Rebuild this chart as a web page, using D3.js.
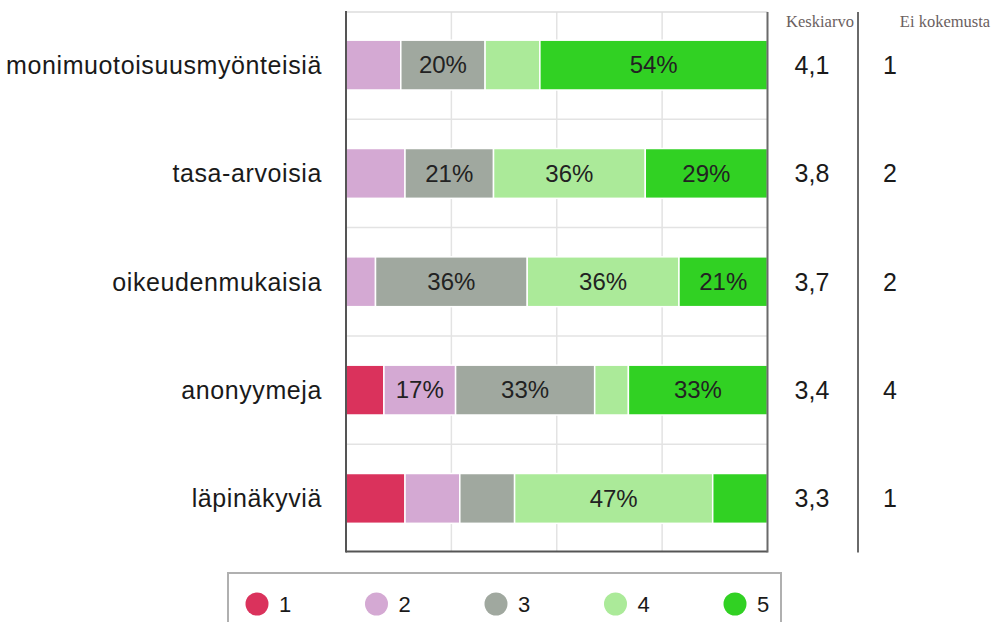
<!DOCTYPE html>
<html>
<head>
<meta charset="utf-8">
<script src="https://cdn.jsdelivr.net/npm/d3@7"></script>
<style>
  body { margin: 0; background: #fff; }
  svg { display: block; font-family: "Liberation Sans", Arial, sans-serif; }
</style>
</head>
<body>
<div class="chart"></div>
<script>
// data (percent of answers per grade)
var categories = ["monimuotoisuusmyönteisiä", "tasa-arvoisia", "oikeudenmukaisia", "anonyymeja", "läpinäkyviä"];
var grades = ["1", "2", "3", "4", "5"];
var grade1 = [0, 0, 0, 9, 14];
var grade2 = [13, 14, 7, 17, 13];
var grade3 = [20, 21, 36, 33, 13];
var grade4 = [13, 36, 36, 8, 47];
var grade5 = [54, 29, 21, 33, 13];
var keskiarvo = ["4,1", "3,8", "3,7", "3,4", "3,3"];
var eiKokemusta = ["1", "2", "2", "4", "1"];
var colors = ["#da325c", "#d4a9d3", "#a0a89f", "#abea99", "#31d123"];

var width = 995, height = 622,
    margin = {top: 12, left: 346, right: 227.5, bottom: 70.5},
    plotRight = width - margin.right,
    plotBottom = height - margin.bottom;

var svg = d3.select(".chart").append("svg")
    .attr("width", width)
    .attr("height", height);

var x = d3.scaleLinear().domain([0, 100]).range([margin.left, plotRight]);
var y = d3.scaleBand().domain(categories)
    .range([margin.top, plotBottom])
    .paddingInner(0.54)
    .paddingOuter(0.26);
var color = d3.scaleOrdinal().domain(grades).range(colors);

// rows -> stacked segments
var rows = categories.map(function(c, i) {
    return {cat: c, "1": grade1[i], "2": grade2[i], "3": grade3[i], "4": grade4[i], "5": grade5[i]};
});
var stack = d3.stack().keys(grades)(rows);

// grid
var grid = svg.append("g").attr("class", "grid");
grid.selectAll(".vgrid")
    .data([25, 50, 75])
  .enter().append("line")
    .attr("x1", function(d) { return x(d); })
    .attr("x2", function(d) { return x(d); })
    .attr("y1", margin.top)
    .attr("y2", plotBottom)
    .attr("stroke", "#e3e3e3")
    .attr("stroke-width", 1.5);
grid.selectAll(".hgrid")
    .data(categories.slice(1))
  .enter().append("line")
    .attr("x1", margin.left)
    .attr("x2", plotRight)
    .attr("y1", function(d) { return y(d) - y.step() * y.paddingInner() / 2; })
    .attr("y2", function(d) { return y(d) - y.step() * y.paddingInner() / 2; })
    .attr("stroke", "#e3e3e3")
    .attr("stroke-width", 1.5);
// top line
grid.append("line")
    .attr("x1", margin.left).attr("x2", plotRight)
    .attr("y1", margin.top).attr("y2", margin.top)
    .attr("stroke", "#dcdcdc").attr("stroke-width", 1.5);

// bars
var layer = svg.selectAll(".layer")
    .data(stack)
  .enter().append("g")
    .attr("class", "layer")
    .attr("fill", function(d) { return color(d.key); });

layer.selectAll("rect")
    .data(function(d) { return d; })
  .enter().append("rect")
    .attr("x", function(d) { return x(d[0]); })
    .attr("width", function(d) { return Math.max(0, x(d[1]) - x(d[0])); })
    .attr("y", function(d) { return y(d.data.cat); })
    .attr("height", y.bandwidth())
    .attr("stroke", "#fff")
    .attr("stroke-width", function(d) { return d[1] - d[0] > 0 ? 1.5 : 0; });

// percent labels (only big segments)
layer.selectAll("text")
    .data(function(d) { return d.filter(function(s) { return s[1] - s[0] >= 15; }); })
  .enter().append("text")
    .attr("x", function(d) { return x((d[0] + d[1]) / 2); })
    .attr("y", function(d) { return y(d.data.cat) + y.bandwidth() / 2; })
    .attr("dy", "0.35em")
    .attr("text-anchor", "middle")
    .attr("fill", "#222")
    .style("font-size", "24px")
    .text(function(d) { return Math.round(d[1] - d[0]) + "%"; });

// frame
svg.append("line")
    .attr("x1", margin.left).attr("x2", margin.left)
    .attr("y1", margin.top - 1).attr("y2", plotBottom + 1)
    .attr("stroke", "#555").attr("stroke-width", 2);
svg.append("line")
    .attr("x1", margin.left).attr("x2", plotRight)
    .attr("y1", plotBottom).attr("y2", plotBottom)
    .attr("stroke", "#555").attr("stroke-width", 2);
svg.append("line")
    .attr("x1", plotRight).attr("x2", plotRight)
    .attr("y1", margin.top).attr("y2", plotBottom + 1)
    .attr("stroke", "#6a6a6a").attr("stroke-width", 2);

// category labels
svg.selectAll(".cat")
    .data(categories)
  .enter().append("text")
    .attr("class", "cat")
    .attr("x", margin.left - 24)
    .attr("y", function(d) { return y(d) + y.bandwidth() / 2; })
    .attr("dy", "0.35em")
    .attr("text-anchor", "end")
    .attr("fill", "#1a1a1a")
    .style("font-size", "25px")
    .style("letter-spacing", "0.6px")
    .text(function(d) { return d; });

// side columns
var colKa = 812, colEk = 890, divider = 858;
svg.append("line")
    .attr("x1", divider).attr("x2", divider)
    .attr("y1", margin.top).attr("y2", plotBottom + 1)
    .attr("stroke", "#6a6a6a").attr("stroke-width", 2);

svg.append("text")
    .attr("x", 820).attr("y", 27)
    .attr("text-anchor", "middle")
    .attr("fill", "#6b5f5f")
    .style("font-family", "'Liberation Serif', serif")
    .style("font-size", "16.5px")
    .text("Keskiarvo");
svg.append("text")
    .attr("x", 945).attr("y", 27)
    .attr("text-anchor", "middle")
    .attr("fill", "#6b5f5f")
    .style("font-family", "'Liberation Serif', serif")
    .style("font-size", "16.5px")
    .text("Ei kokemusta");

svg.selectAll(".ka")
    .data(keskiarvo)
  .enter().append("text")
    .attr("x", colKa)
    .attr("y", function(d, i) { return y(categories[i]) + y.bandwidth() / 2; })
    .attr("dy", "0.35em")
    .attr("text-anchor", "middle")
    .attr("fill", "#1a1a1a")
    .style("font-size", "25px")
    .text(function(d) { return d; });

svg.selectAll(".ek")
    .data(eiKokemusta)
  .enter().append("text")
    .attr("x", colEk)
    .attr("y", function(d, i) { return y(categories[i]) + y.bandwidth() / 2; })
    .attr("dy", "0.35em")
    .attr("text-anchor", "middle")
    .attr("fill", "#1a1a1a")
    .style("font-size", "25px")
    .text(function(d) { return d; });

// legend
var legend = svg.append("g").attr("class", "legend");
legend.append("rect")
    .attr("x", 228).attr("y", 573)
    .attr("width", 553).attr("height", 70)
    .attr("fill", "#fff")
    .attr("stroke", "#b0b0b0").attr("stroke-width", 2);

var lx = d3.scalePoint().domain(grades).range([257, 735]);
var item = legend.selectAll(".item")
    .data(grades)
  .enter().append("g")
    .attr("transform", function(d) { return "translate(" + lx(d) + ",604)"; });
item.append("circle")
    .attr("r", 11.5)
    .attr("fill", function(d) { return color(d); });
item.append("text")
    .attr("x", 22)
    .attr("dy", "0.35em")
    .attr("fill", "#1a1a1a")
    .style("font-size", "22px")
    .text(function(d) { return d; });
</script>
</body>
</html>
